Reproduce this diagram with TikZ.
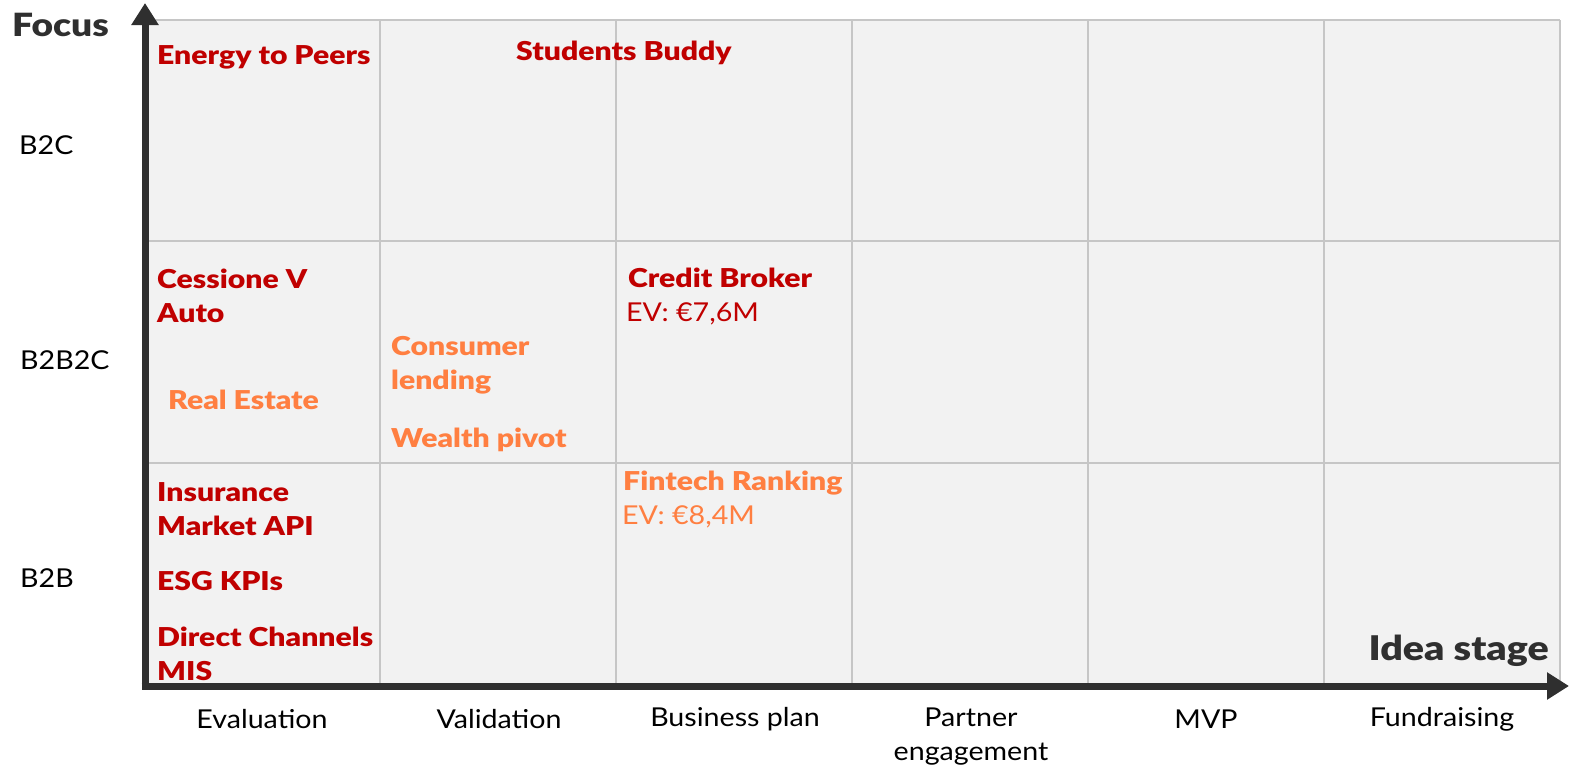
\documentclass[tikz,border=0pt]{standalone}
\usepackage{fontspec}
\setmainfont{Lato}[FakeStretch=1.1]
\newfontfamily\heavy{Lato Black}[FakeStretch=1.16]
\usetikzlibrary{arrows.meta}
\definecolor{cred}{HTML}{C00000}
\definecolor{corange}{HTML}{FF7F41}
\definecolor{caxis}{HTML}{2F2F2F}
\definecolor{cgrid}{HTML}{C6C6C6}
\definecolor{cfill}{HTML}{F2F2F2}
\tikzset{
  item/.style={anchor=west,font=\fontsize{26}{34}\selectfont\heavy,align=left,inner sep=0pt},
  red item/.style={item,text=cred},
  orange item/.style={item,text=corange},
  sub/.style={anchor=west,font=\fontsize{26}{34}\selectfont,inner sep=0pt},
  rowlab/.style={anchor=west,font=\fontsize{26}{30}\selectfont,inner sep=0pt},
  collab/.style={anchor=center,font=\fontsize{26}{34}\selectfont,align=center,inner sep=0pt},
  axistitle/.style={font=\fontsize{32}{36}\selectfont\heavy,text=caxis,inner sep=0pt},
  gridline/.style={draw=cgrid,line width=2.5pt},
  axisline/.style={draw=caxis,line width=7pt,-{Triangle[length=22pt,width=26pt]}}
}
\begin{document}
\begin{tikzpicture}[x=1pt,y=-1pt]
\useasboundingbox (0,0) rectangle (1571,769);
% background grid
\fill[cfill] (145,20) rectangle (1560,686);
\foreach \xx in {380,616,852,1088,1324,1560}
  \draw[gridline] (\xx,20) -- (\xx,686);
\foreach \yy in {20,241,463}
  \draw[gridline] (145,\yy) -- (1560,\yy);
% axes
\coordinate (origin) at (145,686);
\coordinate (ytip) at (145,3);
\coordinate (xtip) at (1569,686);
\draw[axisline] (origin) -- (ytip);
\draw[axisline] ([xshift=-3.5pt]origin) -- (xtip);
% axis titles
\node[axistitle,anchor=west] (focus) at (12,25) {Focus};
\node[axistitle,anchor=east,font=\fontsize{34}{40}\selectfont\heavy] (idea) at (1549,651) {Idea stage};
% row labels
\node[rowlab] (b2c) at (19,145) {B2C};
\node[rowlab] (b2b2c) at (20,360) {B2B2C};
\node[rowlab] (b2b) at (20,578) {B2B};
% column labels
\node[collab] (c1) at (262,719) {Evaluation};
\node[collab] (c2) at (499,719) {Validation};
\node[collab] (c3) at (735,719) {Business plan};
\node[collab,anchor=north] (c4) at (971,708) {Partner\\engagement};
\node[collab] (c5) at (1206,719) {MVP};
\node[collab] (c6) at (1442,719) {Fundraising};
% items
\node[red item] (e2p) at (157,57) {Energy to Peers};
\node[red item] (sb) at (516,53) {Students Buddy};
\node[red item,anchor=north west] (cva) at (157,269) {Cessione V\\Auto};
\node[orange item] (re) at (168,400) {Real Estate};
\node[orange item,anchor=north west] (cl) at (391,336) {Consumer\\lending};
\node[orange item] (wp) at (391,440) {Wealth pivot};
\node[red item] (cb) at (628,278) {Credit Broker};
\node[sub,text=cred] (cbev) at (626,314) {EV: €7,6M};
\node[orange item] (fr) at (623,483) {Fintech Ranking};
\node[sub,text=corange] (frev) at (622,517) {EV: €8,4M};
\node[red item,anchor=north west] (ima) at (157,482) {Insurance\\Market API};
\node[red item] (esg) at (157,581) {ESG KPIs};
\node[red item,anchor=north west] (dcm) at (157,627) {Direct Channels\\MIS};
\end{tikzpicture}
\end{document}
